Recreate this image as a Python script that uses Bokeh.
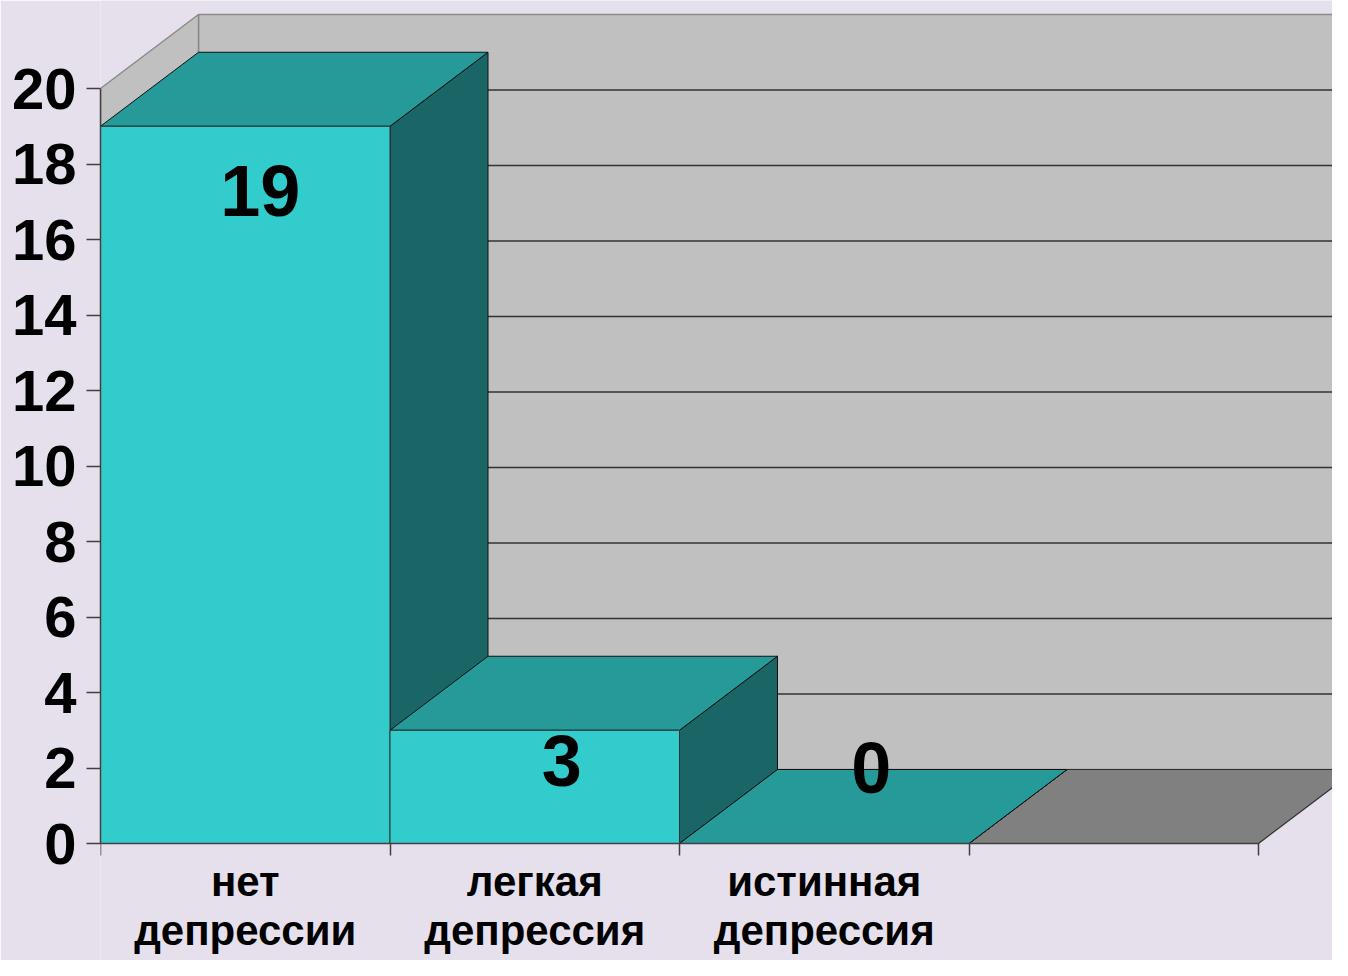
from bokeh.plotting import figure
from bokeh.models import Range1d, FixedTicker, ColumnDataSource
from bokeh.core.properties import value
from bokeh.embed import file_html
from bokeh.resources import INLINE

# ---------------- data ----------------
categories = ["нет\nдепрессии", "легкая\nдепрессия", "истинная\nдепрессия"]
counts = [19, 3, 0]
n_slots = 4                      # the chart reserves a fourth, empty slot
y_ticks = [0, 2, 4, 6, 8, 10, 12, 14, 16, 18, 20]
wall_top = 20

# ---------------- style / layout ----------------
BG = "#E5E0EC"
WALL = "#C0C0C0"
FLOOR = "#808080"
FRONT = "#33CCCC"
TOP = "#269999"
SIDE = "#1A6666"
FONT = "Liberation Sans"

W, H = 1332, 960
LEFT = 100            # width of the y-axis panel
AXIS_Y_PX = 843       # screen row of the value 0
PX_X = 289.5          # pixels per category slot
PX_Y = 37.75          # pixels per unit
DEPTH_X_PX, DEPTH_Y_PX = 98, 74
dx = DEPTH_X_PX / PX_X
dy = DEPTH_Y_PX / PX_Y

frame_w = W - LEFT
y_lo = -(H - AXIS_Y_PX) / PX_Y
y_hi = AXIS_Y_PX / PX_Y

p = figure(width=W, height=H,
           x_range=Range1d(0, frame_w / PX_X), y_range=Range1d(y_lo, y_hi),
           output_backend="svg", toolbar_location=None,
           min_border_left=LEFT, min_border_bottom=0,
           min_border_top=0, min_border_right=0,
           background_fill_color=BG, border_fill_color=BG,
           outline_line_color=None)
p.xgrid.visible = False
p.ygrid.visible = False

# ---------------- walls and floor ----------------
back_x = [dx, n_slots + dx, n_slots + dx, dx]
back_y = [dy, dy, wall_top + dy, wall_top + dy]
side_x = [0, dx, dx, 0]
side_y = [0, dy, wall_top + dy, wall_top]
p.patches([back_x, side_x], [back_y, side_y], fill_color=WALL,
          line_color="#8A8A8A", line_width=1.5)

floor_x = [0, n_slots, n_slots + dx, dx]
floor_y = [0, 0, dy, dy]
p.patch(floor_x, floor_y, fill_color=FLOOR, line_color="#303030", line_width=1.2)

# gridlines on back wall and side wall
grid_vals = [v for v in y_ticks if 0 < v < wall_top]
p.multi_line([[dx, n_slots + dx] for v in grid_vals],
             [[v + dy, v + dy] for v in grid_vals],
             line_color="#333333", line_width=1.6)
p.multi_line([[0, dx] for v in grid_vals],
             [[v, v + dy] for v in grid_vals],
             line_color="#333333", line_width=1.6)

# ---------------- bars (left to right) ----------------
for i, c in enumerate(counts):
    x0, x1 = i, i + 1
    # side face
    p.patch([x1, x1 + dx, x1 + dx, x1], [0, dy, c + dy, c],
            fill_color=SIDE, line_color="#101010", line_width=1)
    # top face
    p.patch([x0, x1, x1 + dx, x0 + dx], [c, c, c + dy, c + dy],
            fill_color=TOP, line_color="#101010", line_width=1)
    # front face
    if c > 0:
        p.patch([x0, x1, x1, x0], [0, 0, c, c],
                fill_color=FRONT, line_color="#303030", line_width=1)

# ---------------- value labels ----------------
lab = ColumnDataSource(dict(
    x=[i + 0.5 for i in range(len(counts))],
    y=counts,
    t=[str(c) for c in counts],
    xo=[15, 27, 47],
    yo=[65, 31, -76],
))
p.text(x="x", y="y", text="t", source=lab, x_offset="xo", y_offset="yo",
       text_font=value(FONT), text_font_style="bold", text_font_size="72px",
       text_align="center", text_baseline="middle", text_color="black")

# ---------------- axes ----------------
ya = p.yaxis[0]
ya.ticker = FixedTicker(ticks=y_ticks)
ya.bounds = (0, wall_top)
ya.major_tick_out = 14
ya.major_tick_in = 0
ya.minor_tick_line_color = None
ya.axis_line_color = "#404040"
ya.axis_line_width = 1.5
ya.major_tick_line_color = "#404040"
ya.major_tick_line_width = 1.5
ya.major_label_standoff = 10
ya.major_label_text_font = FONT
ya.major_label_text_font_style = "bold"
ya.major_label_text_font_size = "58px"
ya.major_label_text_color = "black"

xa = p.xaxis[0]
xa.fixed_location = 0
centers = [i + 0.5 for i in range(len(categories))]
xa.ticker = FixedTicker(ticks=centers, minor_ticks=list(range(n_slots + 1)))
xa.bounds = (0, n_slots)
xa.major_label_overrides = {c: lbl for c, lbl in zip(centers, categories)}
xa.major_tick_out = 0
xa.major_tick_in = 0
xa.minor_tick_out = 12
xa.minor_tick_in = 0
xa.minor_tick_line_color = "#404040"
xa.minor_tick_line_width = 1.5
xa.axis_line_color = "#404040"
xa.axis_line_width = 1.5
xa.major_label_standoff = 2
xa.major_label_text_font = FONT
xa.major_label_text_font_style = "bold"
xa.major_label_text_font_size = "42px"
xa.major_label_text_line_height = 1.05
xa.major_label_text_color = "black"
xa.major_label_text_align = "center"

open("out.html", "w").write(file_html(p, INLINE))
